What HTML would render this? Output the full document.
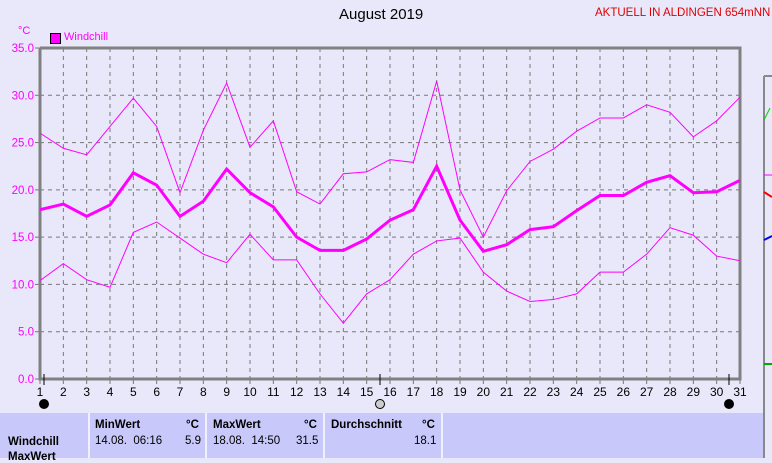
<!DOCTYPE html><html><head><style>
body{margin:0;width:772px;height:458px;background:#e8e8fa;overflow:hidden;font-family:"Liberation Sans",sans-serif;position:relative}
.t{position:absolute;font-size:12px;white-space:nowrap}
</style></head><body>
<svg id="s" width="772" height="458" style="position:absolute;left:0;top:0" font-family="Liberation Sans, sans-serif"></svg>
<div class="t" style="left:339px;top:6px;font-size:15px;color:#000">August 2019</div>
<div class="t" style="left:595px;top:7px;color:#e00000;font-size:11.5px">AKTUELL IN ALDINGEN 654mNN</div>
<div class="t" style="left:18px;top:25px;color:#f0f;font-size:11px">°C</div>
<div style="position:absolute;left:50px;top:33px;width:9px;height:9px;background:#f0f;border:1px solid #000"></div>
<div class="t" style="left:64px;top:31px;color:#f0f;font-size:11px">Windchill</div>
<div style="position:absolute;left:0;top:413px;width:763px;height:45px;background:#c8c8fa"></div>
<div style="position:absolute;left:88px;top:413px;width:2px;height:45px;background:#f0f0ff"></div>
<div style="position:absolute;left:205px;top:413px;width:2px;height:45px;background:#f0f0ff"></div>
<div style="position:absolute;left:323px;top:413px;width:2px;height:45px;background:#f0f0ff"></div>
<div style="position:absolute;left:441px;top:413px;width:2px;height:45px;background:#f0f0ff"></div>
<div class="t" style="left:8px;top:436px;font-weight:bold;font-size:11.5px">Windchill</div>
<div class="t" style="left:8px;top:451px;font-weight:bold;font-size:11.5px">MaxWert</div>
<div class="t" style="left:95px;top:419px;font-weight:bold;font-size:11.5px">MinWert</div>
<div class="t" style="left:186px;top:419px;font-weight:bold;font-size:11.5px">°C</div>
<div class="t" style="left:95px;top:435px;font-size:11.5px">14.08.&nbsp; 06:16</div>
<div class="t" style="left:185px;top:435px;font-size:11.5px">5.9</div>
<div class="t" style="left:213px;top:419px;font-weight:bold;font-size:11.5px">MaxWert</div>
<div class="t" style="left:304px;top:419px;font-weight:bold;font-size:11.5px">°C</div>
<div class="t" style="left:213px;top:435px;font-size:11.5px">18.08.&nbsp; 14:50</div>
<div class="t" style="left:296px;top:435px;font-size:11.5px">31.5</div>
<div class="t" style="left:331px;top:419px;font-weight:bold;font-size:11.5px">Durchschnitt</div>
<div class="t" style="left:422px;top:419px;font-weight:bold;font-size:11.5px">°C</div>
<div class="t" style="left:414px;top:435px;font-size:11.5px">18.1</div>
<script>
var mx=[26.0,24.4,23.7,26.7,29.7,26.7,19.7,26.3,31.3,24.5,27.3,19.8,18.5,21.7,21.9,23.2,22.9,31.5,20.0,15.0,19.9,23.0,24.3,26.2,27.6,27.6,29.0,28.2,25.6,27.3,29.8];
var av=[17.9,18.5,17.2,18.4,21.8,20.5,17.2,18.8,22.2,19.7,18.2,15.0,13.6,13.6,14.8,16.8,17.9,22.5,16.8,13.5,14.2,15.8,16.1,17.8,19.4,19.4,20.8,21.5,19.7,19.8,21.0];
var mn=[10.4,12.2,10.5,9.7,15.5,16.6,14.9,13.2,12.3,15.3,12.6,12.6,9.0,5.9,9.0,10.5,13.2,14.6,14.9,11.3,9.3,8.2,8.4,9.0,11.3,11.3,13.2,16.0,15.2,13.0,12.5];
function X(d){return 40+(d-1)*700/30}function Y(v){return 379-v*331/35}
var h='';
for(var i=1;i<7;i++){var y=Y(i*5);h+='<line x1="40" x2="740" y1="'+y+'" y2="'+y+'" stroke="#777" stroke-dasharray="4,4"/>'}
for(var d=2;d<31;d++){var x=X(d);h+='<line x1="'+x+'" x2="'+x+'" y1="48" y2="379" stroke="#777" stroke-dasharray="4,4"/>'}
for(var d=1;d<=31;d++){var x=X(d);h+='<line x1="'+x+'" x2="'+x+'" y1="379" y2="384" stroke="#777"/><text x="'+x+'" y="396" font-size="12" text-anchor="middle">'+d+'</text>'}
for(var i=0;i<8;i++){var y=Y(i*5);h+='<line x1="35" x2="40" y1="'+y+'" y2="'+y+'" stroke="#777"/><text x="34" y="'+(y+4)+'" font-size="11.5" fill="#f0f" text-anchor="end">'+(i*5).toFixed(1)+'</text>'}
h+='<polyline points="40,48 740,48 740,379 40,379 40,48" fill="none" stroke="#808080" stroke-width="3"/>';
function P(a,w){return '<polyline fill="none" stroke="#f0f" stroke-width="'+w+'" points="'+a.map(function(v,i){return X(i+1)+','+Y(v)}).join(' ')+'"/>'}
h+=P(mx,1)+P(mn,1)+P(av,3);
[44,380,729].forEach(function(x,i){h+='<line x1="'+x+'" x2="'+x+'" y1="374" y2="385" stroke="#000"/><circle cx="'+x+'" cy="404" r="4.5" fill="'+(i==1?'#ccc':'#000')+'" stroke="#000"/>'});
h+='<line x1="764" x2="764" y1="76" y2="458" stroke="#888" stroke-width="2"/><line x1="764" x2="772" y1="76" y2="76" stroke="#888" stroke-width="2"/>';
h+='<line x1="764" x2="772" y1="175" y2="175" stroke="#f0f"/><line x1="764" x2="772" y1="192" y2="197" stroke="red" stroke-width="2"/><line x1="764" x2="772" y1="240" y2="236" stroke="blue" stroke-width="2"/><line x1="764" x2="772" y1="364" y2="364" stroke="#0a0" stroke-width="2"/><line x1="764" x2="770" y1="120" y2="108" stroke="#0c0"/>';
document.getElementById('s').innerHTML=h;
</script>
</body></html>
